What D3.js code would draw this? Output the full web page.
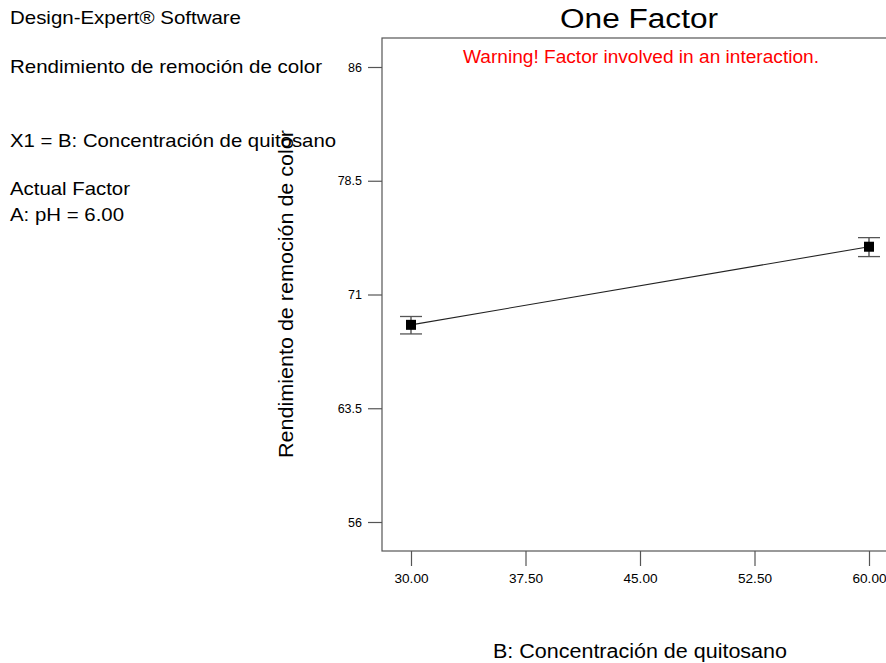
<!DOCTYPE html>
<html><head><meta charset="utf-8">
<script src="https://cdn.jsdelivr.net/npm/d3@7"></script>
<style>body{margin:0;background:#fff}svg{display:block;font-family:"Liberation Sans",Arial,sans-serif}</style>
</head><body>
<svg id="c" width="886" height="663"></svg>
<script>
const xValues = [30, 60];
const yValues = [69.0, 74.15];
const yErrLow = [68.4, 73.5];
const yErrHigh = [69.55, 74.75];
const xTicks = [30, 37.5, 45, 52.5, 60];
const yTicks = [56, 63.5, 71, 78.5, 86];
const infoLines = [
  {t:"Design-Expert® Software", y:24, w:231},
  {t:"Rendimiento de remoción de color", y:73, w:312},
  {t:"X1 = B: Concentración de quitosano", y:147, w:326},
  {t:"Actual Factor", y:195, w:120},
  {t:"A: pH = 6.00", y:221, w:114}
];

const svg = d3.select("#c");
const L=382, T=38, R=900, B=551;
const x = d3.scaleLinear().domain([30,60]).range([411,869]);
const y = d3.scaleLinear().domain([56,86]).range([522,67]);

svg.selectAll("text.info").data(infoLines).enter().append("text")
  .attr("x",10).attr("y",d=>d.y).attr("font-size",18.5).attr("fill","#000")
  .attr("textLength",d=>d.w).attr("lengthAdjust","spacingAndGlyphs").text(d=>d.t);

svg.append("text").attr("x",639).attr("y",28).attr("text-anchor","middle")
  .attr("font-size",27).attr("textLength",158).attr("lengthAdjust","spacingAndGlyphs").text("One Factor");

svg.append("rect").attr("x",L).attr("y",T).attr("width",R-L).attr("height",B-T)
  .attr("fill","none").attr("stroke","#555").attr("stroke-width",1.2);

svg.append("text").attr("x",641).attr("y",63).attr("text-anchor","middle")
  .attr("font-size",17.5).attr("fill","#ff0000")
  .attr("textLength",356).attr("lengthAdjust","spacingAndGlyphs").text("Warning! Factor involved in an interaction.");

const yAxis = d3.axisLeft(y).tickValues(yTicks).tickSize(14).tickPadding(6).tickFormat(d=>String(d));
const gy = svg.append("g").attr("transform",`translate(${L},0)`).call(yAxis);
gy.select(".domain").remove();
gy.selectAll("line").attr("stroke","#555").attr("stroke-width",1.2);
gy.selectAll("text").attr("font-size",12.5).attr("font-family","Liberation Sans, Arial").attr("fill","#000");

const xAxis = d3.axisBottom(x).tickValues(xTicks).tickSize(15).tickPadding(8).tickFormat(d3.format(".2f"));
const gx = svg.append("g").attr("transform",`translate(0,${B})`).call(xAxis);
gx.select(".domain").remove();
gx.selectAll("line").attr("stroke","#555").attr("stroke-width",1.2);
gx.selectAll("text").attr("font-size",12.5).attr("font-family","Liberation Sans, Arial").attr("fill","#000")
  .attr("textLength",34).attr("lengthAdjust","spacingAndGlyphs");

svg.append("text").attr("transform",`translate(293,294) rotate(-90)`)
  .attr("text-anchor","middle").attr("font-size",19.5)
  .attr("textLength",328).attr("lengthAdjust","spacingAndGlyphs").text("Rendimiento de remoción de color");
svg.append("text").attr("x",640).attr("y",658).attr("text-anchor","middle")
  .attr("font-size",19.5).attr("textLength",294).attr("lengthAdjust","spacingAndGlyphs")
  .text("B: Concentración de quitosano");

const pts = xValues.map((v,i)=>({x:v,y:yValues[i],lo:yErrLow[i],hi:yErrHigh[i]}));
svg.append("path").datum(pts).attr("fill","none").attr("stroke","#222").attr("stroke-width",1.1)
  .attr("d", d3.line().x(d=>x(d.x)).y(d=>y(d.y)));
const g = svg.selectAll("g.pt").data(pts).enter().append("g");
g.append("line").attr("x1",d=>x(d.x)).attr("x2",d=>x(d.x)).attr("y1",d=>y(d.hi)).attr("y2",d=>y(d.lo))
  .attr("stroke","#333").attr("stroke-width",1.2);
g.append("line").attr("x1",d=>x(d.x)-11).attr("x2",d=>x(d.x)+11).attr("y1",d=>y(d.hi)).attr("y2",d=>y(d.hi))
  .attr("stroke","#555").attr("stroke-width",1.3);
g.append("line").attr("x1",d=>x(d.x)-11).attr("x2",d=>x(d.x)+11).attr("y1",d=>y(d.lo)).attr("y2",d=>y(d.lo))
  .attr("stroke","#555").attr("stroke-width",1.3);
g.append("rect").attr("x",d=>x(d.x)-5).attr("y",d=>y(d.y)-5).attr("width",10).attr("height",10).attr("fill","#000");
</script>
</body></html>
